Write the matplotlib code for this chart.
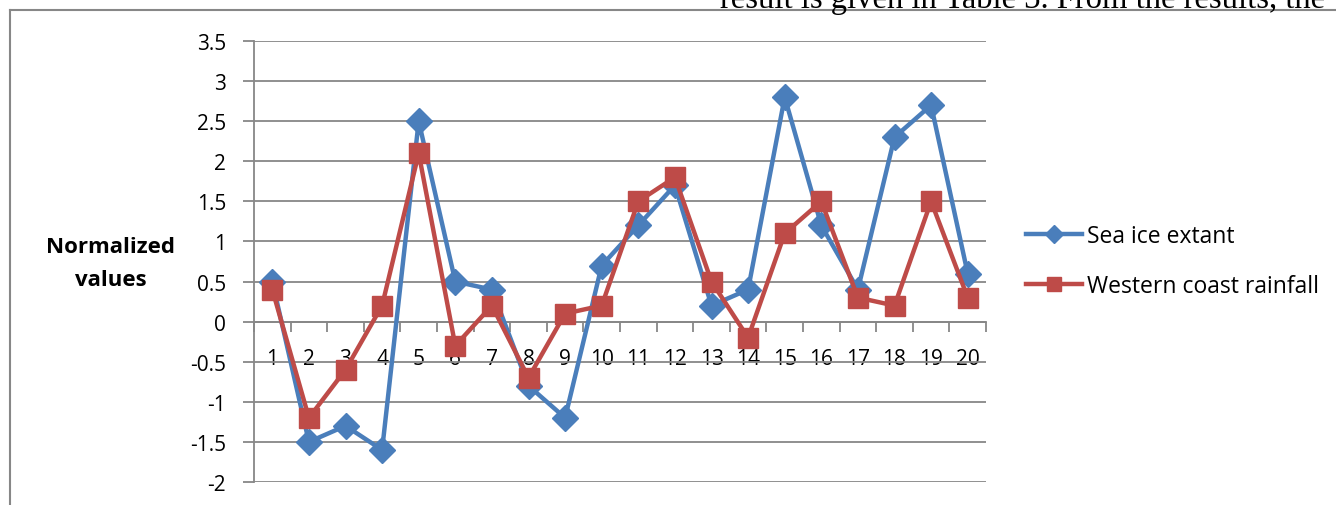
import matplotlib
matplotlib.use("Agg")
import matplotlib.pyplot as plt
from matplotlib.lines import Line2D

# Series data
categories = list(range(1, 21))
sea_ice_extant = [0.5, -1.5, -1.3, -1.6, 2.5, 0.5, 0.4, -0.8, -1.2, 0.7,
                  1.2, 1.7, 0.2, 0.4, 2.8, 1.2, 0.4, 2.3, 2.7, 0.6]
western_coast_rainfall = [0.4, -1.2, -0.6, 0.2, 2.1, -0.3, 0.2, -0.7, 0.1, 0.2,
                          1.5, 1.8, 0.5, -0.2, 1.1, 1.5, 0.3, 0.2, 1.5, 0.3]
y_ticks = [-2, -1.5, -1, -0.5, 0, 0.5, 1, 1.5, 2, 2.5, 3, 3.5]
y_tick_labels = ["-2", "-1.5", "-1", "-0.5", "0", "0.5", "1", "1.5", "2", "2.5", "3", "3.5"]

BLUE = "#4A7EBB"
RED = "#BE4B48"
GRID = "#878787"
FONT = "Open Sans"
FS_TICK = 15
FS_TEXT = 16.5

W, H = 1336, 506
fig = plt.figure(figsize=(W / 100, H / 100), dpi=100)
fig.patch.set_facecolor("white")

ax = fig.add_axes([254 / W, 1 - 483 / H, 732 / W, 441 / H])
ax.set_xlim(0.5, 20.5)
ax.set_ylim(-2, 3.5)

# Horizontal gridlines
ax.set_yticks(y_ticks)
ax.set_yticklabels(y_tick_labels, fontfamily=FONT, fontsize=FS_TICK)
ax.yaxis.grid(True, color=GRID, linewidth=1.3)
ax.set_axisbelow(True)
ax.tick_params(axis="y", length=8, width=1.3, color=GRID, pad=12, direction="out")

# Category axis crossing at zero
for side in ("top", "right"):
    ax.spines[side].set_visible(False)
ax.spines["left"].set_color(GRID)
ax.spines["left"].set_linewidth(1.3)
ax.spines["bottom"].set_position(("data", 0))
ax.spines["bottom"].set_color(GRID)
ax.spines["bottom"].set_linewidth(1.3)

ax.set_xticks(categories)
ax.set_xticklabels([str(c) for c in categories], fontfamily=FONT, fontsize=FS_TICK)
ax.set_xticks([c + 0.5 for c in [0] + categories], minor=True)
ax.tick_params(axis="x", which="major", length=0, pad=19)
ax.tick_params(axis="x", which="minor", length=7, width=1.3, color=GRID, direction="out")

# Data series
ax.plot(categories, sea_ice_extant, color=BLUE, linewidth=3.2, marker="D",
        markersize=13.5, markerfacecolor=BLUE, markeredgecolor=BLUE,
        label="Sea ice extant", zorder=3, clip_on=False)
ax.plot(categories, western_coast_rainfall, color=RED, linewidth=3.2, marker="s",
        markersize=14, markerfacecolor=RED, markeredgecolor=RED,
        label="Western coast rainfall", zorder=4, clip_on=False)

# Legend
handles = [
    Line2D([], [], color=BLUE, linewidth=3.2, marker="D", markersize=9.5),
    Line2D([], [], color=RED, linewidth=3.2, marker="s", markersize=10),
]
fig.legend(handles, ["Sea ice extant", "Western coast rainfall"],
           loc="center left", bbox_to_anchor=(1026 / W, 1 - 262 / H),
           frameon=False, prop={"family": FONT, "size": FS_TEXT},
           handlelength=2.45, handletextpad=0.2, labelspacing=1.1,
           borderpad=0, borderaxespad=0)

# Axis title
fig.text(111 / W, 1 - 264 / H, "Normalized\nvalues", ha="center", va="center",
         fontfamily=FONT, fontweight="bold", fontsize=16, linespacing=1.7)

# Chart frame
fig.add_artist(Line2D([10 / W, 1], [1 - 11 / H, 1 - 11 / H], color=GRID,
                      linewidth=1.5, transform=fig.transFigure))
fig.add_artist(Line2D([10 / W, 10 / W], [0, 1 - 11 / H], color=GRID,
                      linewidth=1.5, transform=fig.transFigure))

# Surrounding page text
fig.text(1325 / W, 1 - 8 / H, "result is given in Table 3. From the results, the",
         ha="right", va="baseline", fontfamily="Liberation Serif", fontsize=23.5)

fig.savefig("out.png", dpi=100)
